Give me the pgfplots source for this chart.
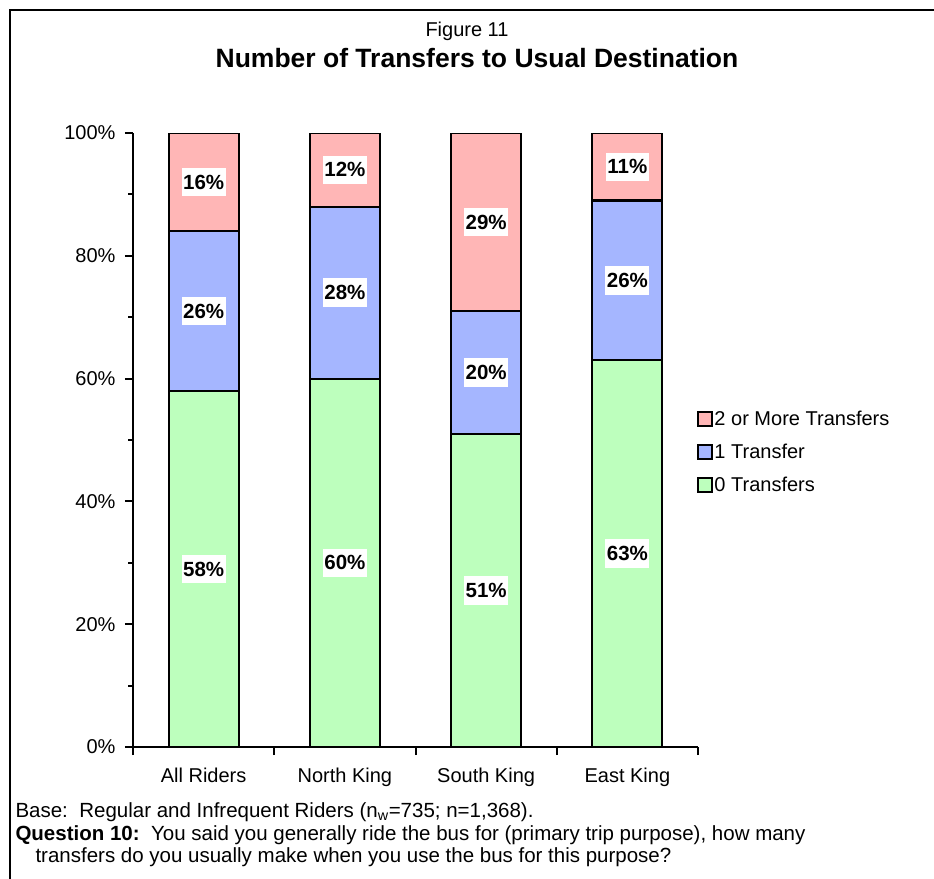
\documentclass[border=0pt]{standalone}
\usepackage{pgfplots}
\pgfplotsset{compat=1.18}
\usepackage{fontspec}
\setmainfont{Liberation Sans}
\definecolor{redfill}{HTML}{FFB6B6}
\definecolor{bluefill}{HTML}{A5B6FF}
\definecolor{greenfill}{HTML}{BDFFBD}
\newcommand{\fs}[1]{\fontsize{#1bp}{#1bp}\selectfont}
\begin{document}
\begin{tikzpicture}
\useasboundingbox (0,0) rectangle (934bp,-879bp);
\fill[white] (0,0) rectangle (934bp,-879bp);
\draw[line width=2.5bp] (10bp,-890bp) -- (10bp,-10bp) -- (945bp,-10bp);
\node[anchor=base, font=\fs{20}] at (467bp,-36bp) {Figure 11};
\node[anchor=base, font=\bfseries\fs{26.5}] at (477bp,-67bp) {Number of Transfers to Usual Destination};
\begin{axis}[
  at={(133bp,-747bp)}, anchor=south west,
  scale only axis, width=565bp, height=614bp,
  xmin=-0.5, xmax=3.5, ymin=0, ymax=100,
  axis x line*=bottom, axis y line*=left,
  x axis line style={-}, y axis line style={-},
  axis line style={line width=2.2bp},
  ybar stacked, bar width=70bp,
  /pgf/number format/assume math mode=true,
  xtick={-0.5,0.5,1.5,2.5,3.5},
  xticklabels={All Riders,North King,South King,East King,{}},
  xticklabel style={xshift=70.6bp, yshift=-9bp},
  ytick={0,20,40,60,80,100},
  yticklabels={0\%,20\%,40\%,60\%,80\%,100\%},
  yticklabel style={xshift=-6bp},
  minor ytick={10,30,50,70,90},
  tick align=outside,
  major tick length=8bp, minor tick length=5bp,
  every tick/.style={black, line width=2bp},
  tick label style={font=\fs{20}},
  point meta=explicit,
  nodes near coords={\pgfmathprintnumber{\pgfplotspointmeta}\%},
  every node near coord/.append style={
    anchor=center,
    fill=white, text=black, inner xsep=1.5bp, inner ysep=7bp,
    font=\bfseries\fs{20.5}},
  sq legend/.style={legend image code/.code={\draw[##1, line width=2bp] (0bp,-7bp) rectangle (14bp,7bp);}},
  reverse legend,
  legend cell align=left,
  legend style={at={(0.997,0.48)}, anchor=west, draw=none, fill=none,
    font=\fs{20}, row sep=13bp, inner sep=0pt,
    /tikz/every even column/.append style={column sep=4bp}},
]
\addplot[sq legend, fill=greenfill, draw=black, line width=2.2bp]
  coordinates {(0,58) [58] (1,60) [60] (2,51) [51] (3,63) [63]};
\addplot[sq legend, fill=bluefill, draw=black, line width=2.2bp]
  coordinates {(0,26) [26] (1,28) [28] (2,20) [20] (3,26) [26]};
\addplot[sq legend, fill=redfill, draw=black, line width=2.2bp]
  coordinates {(0,16) [16] (1,12) [12] (2,29) [29] (3,11) [11]};
\legend{0 Transfers,1 Transfer,2 or More Transfers}
\end{axis}
\node[anchor=base west, font=\fs{20.5}] at (12bp,-817bp) {Base:\ \ Regular and Infrequent Riders (n\textsubscript{w}=735; n=1,368).};
\node[anchor=base west, font=\fs{20.5}] at (12bp,-840bp) {\textbf{Question 10:}\ \ You said you generally ride the bus for (primary trip purpose), how many};
\node[anchor=base west, font=\fs{20.5}] at (32bp,-862bp) {transfers do you usually make when you use the bus for this purpose?};
\end{tikzpicture}
\end{document}
